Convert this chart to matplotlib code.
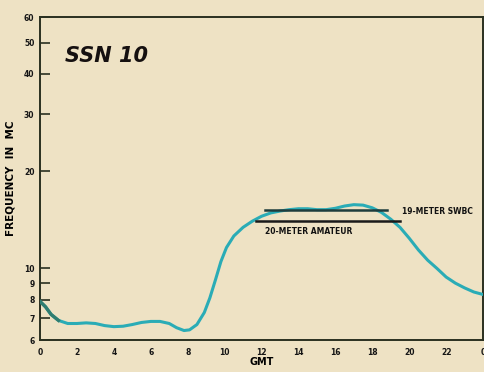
import matplotlib
matplotlib.use("Agg")
import matplotlib.pyplot as plt
from matplotlib.ticker import FixedLocator, NullLocator

# curve (GMT hour, frequency in Mc)
hours = [0, 0.3, 0.6, 1, 1.5, 2, 2.5, 3, 3.5, 4, 4.5, 5, 5.5, 6, 6.5, 7,
         7.4, 7.8, 8.1, 8.5, 8.9, 9.2, 9.5, 9.8, 10.1, 10.5, 11, 11.5, 12,
         12.5, 13, 13.5, 14, 14.5, 15, 15.5, 16, 16.5, 17, 17.5, 18, 18.5,
         19, 19.5, 20, 20.5, 21, 21.5, 22, 22.5, 23, 23.5, 24]
freq = [7.9, 7.6, 7.2, 6.9, 6.75, 6.75, 6.78, 6.75, 6.65, 6.6, 6.62, 6.7,
        6.8, 6.85, 6.85, 6.75, 6.55, 6.42, 6.45, 6.7, 7.3, 8.1, 9.2, 10.5,
        11.6, 12.6, 13.4, 14.0, 14.5, 14.85, 15.05, 15.2, 15.3, 15.3, 15.2,
        15.2, 15.35, 15.6, 15.75, 15.7, 15.4, 14.9, 14.2, 13.4, 12.4, 11.4,
        10.6, 10.0, 9.4, 9.0, 8.7, 8.45, 8.3]

# band markers
swbc_hours = [12.2, 18.8]
swbc_freq = 15.2
ham_hours = [11.7, 19.5]
ham_freq = 14.0

yticks = [6, 7, 8, 9, 10, 20, 30, 40, 50, 60]
xticks = list(range(0, 25, 2))
xlabels = [str(h) for h in range(0, 24, 2)] + ["0"]

bg = "#eee2c4"
fig = plt.figure(figsize=(4.85, 3.72), dpi=100, facecolor=bg)
ax = fig.add_axes([0.0825, 0.086, 0.9135, 0.868])
ax.set_facecolor(bg)

ax.plot(hours, freq, color="#2aacb6", lw=2.2, solid_capstyle="round",
        solid_joinstyle="round", zorder=3)
ax.plot(hours[:4], freq[:4], color="#2f7d70", lw=2.4, zorder=4)

ax.plot(swbc_hours, [swbc_freq, swbc_freq], color="#1e3c3c", lw=1.8, zorder=4)
ax.plot(ham_hours, [ham_freq, ham_freq], color="#1a1a1a", lw=1.8, zorder=4)

ax.text(19.6, 15.0, "19-METER SWBC", fontsize=5.5, fontweight="bold",
        va="center", ha="left", color="#111111")
ax.text(12.2, 13.05, "20-METER AMATEUR", fontsize=5.5, fontweight="bold",
        va="center", ha="left", color="#111111")

ax.text(0.056, 0.88, "SSN 10", transform=ax.transAxes, fontsize=15,
        fontweight="bold", style="italic", color="#151010", va="center")

ax.set_yscale("log")
ax.set_ylim(6, 60)
ax.set_xlim(0, 24)
ax.yaxis.set_major_locator(FixedLocator(yticks))
ax.yaxis.set_minor_locator(NullLocator())
ax.set_yticklabels([str(v) for v in yticks])
ax.set_xticks(xticks)
ax.set_xticklabels(xlabels)

ax.tick_params(axis="y", direction="in", length=7, width=1.2, color="#2a3020",
               labelsize=5.5, pad=4)
ax.tick_params(axis="x", length=0, labelsize=5.5, pad=6)
for lab in ax.get_xticklabels() + ax.get_yticklabels():
    lab.set_fontweight("bold")
    lab.set_color("#151515")

for sp in ax.spines.values():
    sp.set_color("#2a3020")
    sp.set_linewidth(1.4)

ax.set_xlabel("GMT", fontsize=7, fontweight="bold", labelpad=0)
ax.set_ylabel("FREQUENCY  IN  MC", fontsize=7.5, fontweight="bold", labelpad=2)
ax.yaxis.set_label_coords(-0.055, 0.5)

fig.savefig("out.png", dpi=100, facecolor=bg)
